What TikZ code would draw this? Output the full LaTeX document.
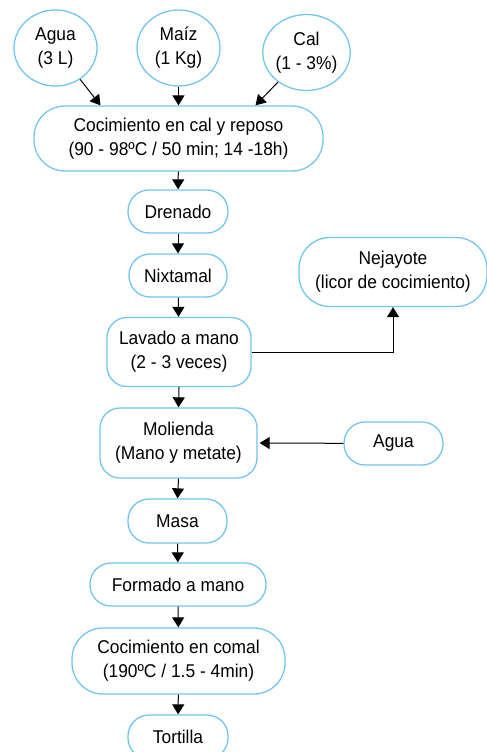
\documentclass[tikz,border=0pt]{standalone}
\usepackage{fontspec}
\setmainfont{Liberation Sans}[FakeStretch=0.94]
\usepackage{tikz}
\usetikzlibrary{shapes.geometric,arrows.meta}
\definecolor{lineablue}{RGB}{112,198,240}

\begin{document}
\begin{tikzpicture}[x=1pt,y=-1pt,
        every node/.style={font=\fontsize{18.5}{24}\selectfont,align=center,inner sep=0pt},
        insumo/.style={draw=lineablue,line width=1.3pt,ellipse,minimum width=83pt,minimum height=76pt},
        paso/.style={draw=lineablue,line width=1.3pt,rectangle,rounded corners=21pt,minimum height=43pt},
        pasoalto/.style={draw=lineablue,line width=1.3pt,rectangle,rounded corners=20pt,minimum height=69pt},
        pasoancho/.style={draw=lineablue,line width=1.3pt,rectangle,rounded corners=31pt,minimum height=66pt},
        flecha/.style={line width=1pt,-{Triangle[length=10pt,width=12pt]}}]
        \useasboundingbox (0,0) rectangle (487,752);
        \node[insumo] (agua) at (55.5,48) {Agua\\(3 L)};
        \node[insumo] (maiz) at (178.5,48) {Maíz\\(1 Kg)};
        \node[insumo] (cal) at (306.5,52.5) {Cal\\(1 - 3\%)};
        \node[pasoancho,minimum width=289pt,minimum height=65pt] (coccal) at (178.5,138.5) {Cocimiento en cal y reposo\\(90 - 98ºC / 50 min; 14 -18h)};
        \node[paso,minimum width=100pt] (drenado) at (178,211.5) {Drenado};
        \node[paso,minimum width=98pt] (nixtamal) at (178,275.5) {Nixtamal};
        \node[pasoalto,minimum width=144pt] (lavado) at (179,352) {Lavado a mano\\(2 - 3 veces)};
        \node[pasoancho,minimum width=188pt,minimum height=69pt] (nejayote) at (393,272) {Nejayote\\(licor de cocimiento)};
        \node[pasoalto,minimum width=157pt,minimum height=70pt] (molienda) at (178.5,443) {Molienda\\(Mano y metate)};
        \node[paso,minimum width=99pt] (agua2) at (393.5,443.5) {Agua};
        \node[paso,minimum width=99pt,minimum height=44pt] (masa) at (177.5,521) {Masa};
        \node[paso,minimum width=176pt] (formado) at (178,584.5) {Formado a mano};
        \node[pasoancho,minimum width=213pt] (comal) at (178.5,661) {Cocimiento en comal\\(190ºC / 1.5 - 4min)};
        \node[paso,minimum width=100pt,minimum height=44pt] (tortilla) at (178,737) {Tortilla};

        \draw[flecha] (agua) -- ([xshift=-78pt]coccal.north);
        \draw[flecha] (maiz) -- (coccal);
        \draw[flecha] (cal) -- ([xshift=77pt]coccal.north);
        \draw[flecha] (coccal) -- (drenado);
        \draw[flecha] (drenado) -- (nixtamal);
        \draw[flecha] (nixtamal) -- (lavado);
        \draw[flecha] (lavado.east) -| (nejayote.south);
        \draw[flecha] (lavado.south) -- (molienda.north);
        \draw[flecha] (agua2) -- ([xshift=2pt]molienda.east);
        \draw[flecha] (molienda.south) -- (masa.north);
        \draw[flecha] (masa) -- (formado);
        \draw[flecha] (formado) -- (comal);
        \draw[flecha] (comal) -- (tortilla);
\end{tikzpicture}
\end{document}
